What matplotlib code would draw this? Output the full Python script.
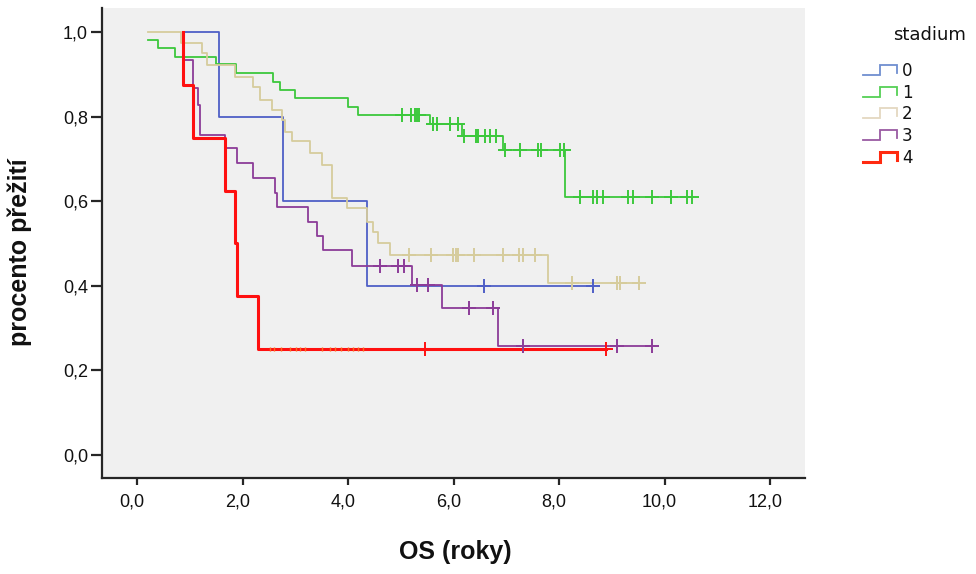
import numpy as np
import matplotlib
matplotlib.use("Agg")
import matplotlib.pyplot as plt
from matplotlib.lines import Line2D
from matplotlib.legend_handler import HandlerBase
import matplotlib.transforms as mtransforms

# ---- data ----
groups = ["0", "1", "2", "3", "4"]

# stage 0
t0 = [0.87, 1.55, 2.77, 4.36]
s0 = [1.0, 0.8, 0.6, 0.4]
c0 = [6.58, 8.65]
# stage 1
t1 = [0.21, 0.40, 0.72, 1.50, 1.88, 2.58, 2.71, 3.0, 4.0, 4.19, 5.55, 6.16, 6.94, 8.11]
s1 = [0.981, 0.962, 0.941, 0.924, 0.903, 0.882, 0.863, 0.844, 0.823, 0.804, 0.782, 0.754, 0.721, 0.61]
c1 = [5.02, 5.19, 5.27, 5.31, 5.35, 5.61, 5.69, 5.93, 6.09, 6.2, 6.43, 6.47, 6.6, 6.69, 6.8,
      6.98, 7.26, 7.6, 7.66, 8.02, 8.09, 8.4, 8.64, 8.71, 8.83, 9.31, 9.4, 9.76, 10.12, 10.43, 10.52]
# stage 2
t2 = [0.21, 0.83, 1.23, 1.33, 1.86, 2.2, 2.33, 2.56, 2.75, 2.81, 2.94, 3.28, 3.5, 3.7, 3.98,
      4.36, 4.47, 4.57, 4.8, 7.79]
s2 = [1.0, 0.974, 0.95, 0.922, 0.894, 0.87, 0.839, 0.816, 0.792, 0.764, 0.742, 0.714, 0.686,
      0.608, 0.584, 0.551, 0.527, 0.501, 0.473, 0.406]
c2 = [5.16, 5.57, 5.99, 6.05, 6.09, 6.39, 6.94, 7.24, 7.31, 7.55, 8.25, 9.1, 9.16, 9.52]
# stage 3
t3 = [0.87, 0.87, 1.06, 1.15, 1.19, 1.67, 1.89, 2.2, 2.62, 2.66, 3.24, 3.41, 3.53, 4.08, 5.21, 5.78, 6.84]
s3 = [1.0, 0.934, 0.868, 0.827, 0.757, 0.726, 0.69, 0.655, 0.619, 0.586, 0.551, 0.518, 0.485,
      0.447, 0.402, 0.348, 0.258]
c3 = [4.61, 4.95, 5.06, 5.31, 5.52, 6.29, 6.75, 7.32, 9.1, 9.76]
# stage 4
t4 = [0.87, 0.87, 1.06, 1.67, 1.86, 1.90, 2.29]
s4 = [1.0, 0.875, 0.75, 0.625, 0.5, 0.375, 0.25]
c4 = [5.46, 8.89]
c4_small = [2.52, 2.6, 2.72, 2.9, 3.02, 3.08, 3.18, 3.5, 3.66, 3.75, 3.87, 4.0, 4.1, 4.19, 4.28]

xticks = [0, 2, 4, 6, 8, 10, 12]
xticklabels = ["0,0", "2,0", "4,0", "6,0", "8,0", "10,0", "12,0"]
yticks = [0.0, 0.2, 0.4, 0.6, 0.8, 1.0]
yticklabels = ["0,0", "0,2", "0,4", "0,6", "0,8", "1,0"]

colors = ["#4F5FC6", "#3CC83C", "#D6CC9C", "#8C3C98", "#FF1010"]
lwidths = [1.3, 1.3, 1.3, 1.3, 2.2]
legend_colors = ["#6F8FD0", "#55D055", "#E4D8C0", "#9A5AA2", "#FF2A10"]

series = [(t0, s0, c0), (t1, s1, c1), (t2, s2, c2), (t3, s3, c3), (t4, s4, c4)]

# ---- figure ----
W, H = 976, 574
fig = plt.figure(figsize=(W / 100, H / 100), dpi=100)
fig.patch.set_facecolor("white")
ax = fig.add_axes([102 / W, 1 - 478 / H, (805 - 102) / W, (478 - 8) / H])
ax.set_facecolor("#F0F0F0")

for (t, s, c), col, lw in zip(series, colors, lwidths):
    t = np.asarray(t, float)
    s = np.asarray(s, float)
    end = max(max(c), t[-1])
    xs = np.append(t, end)
    ys = np.append(s, s[-1])
    ax.step(xs, ys, where="post", color=col, lw=lw, zorder=3)
    idx = np.searchsorted(t, c, side="right") - 1
    ax.plot(c, s[idx], linestyle="none", marker="+", ms=10, mew=1.4, color=col, zorder=4)

# tiny censor ticks on stage 4 line
t4a = np.asarray(t4)
s4a = np.asarray(s4)
idx = np.searchsorted(t4a, c4_small, side="right") - 1
ax.plot(c4_small, s4a[idx], linestyle="none", marker="|", ms=3, mew=1.0,
        color="#FF6A20", zorder=4)

ax.set_xlim(-0.664, 12.66)
ax.set_ylim(-0.0544, 1.0567)

for sp in ["top", "right"]:
    ax.spines[sp].set_visible(False)
for sp in ["left", "bottom"]:
    ax.spines[sp].set_color("#262626")
    ax.spines[sp].set_linewidth(1.6)

tickfont = dict(family="Liberation Sans", size=13)
ax.set_xticks(xticks)
ax.set_xticklabels(xticklabels, **tickfont)
ax.set_yticks(yticks)
ax.set_yticklabels(yticklabels, **tickfont)
ax.tick_params(axis="x", length=5, width=1.6, color="#262626", pad=6, labelcolor="#111111")
ax.tick_params(axis="y", length=8, width=1.6, color="#262626", pad=2, labelcolor="#111111")
off = mtransforms.ScaledTranslation(-5 / 100, 0, fig.dpi_scale_trans)
for lab in ax.get_xticklabels():
    lab.set_transform(lab.get_transform() + off)

fig.text(455 / W, 1 - 552 / H, "OS (roky)", ha="center", va="center",
         family="Liberation Sans", weight="bold", size=18, color="#111111")
fig.text(20 / W, 1 - 252 / H, "procento přežití", ha="center", va="center", rotation=90,
         family="Liberation Sans", weight="bold", size=18, color="#111111")


# ---- legend with step glyphs ----
class StepHandler(HandlerBase):
    def create_artists(self, legend, orig_handle, xdescent, ydescent, width, height, fontsize, trans):
        w, h = width, height
        xs = np.array([0, 0.5 * w, 0.5 * w, w, w]) - xdescent
        ys = np.array([0.1 * h, 0.1 * h, 0.95 * h, 0.95 * h, 0.25 * h]) - ydescent
        ln = Line2D(xs, ys, color=orig_handle.get_color(), lw=orig_handle.get_linewidth(),
                    solid_joinstyle="miter")
        ln.set_transform(trans)
        return [ln]


handles = [Line2D([], [], color=c, lw=lw) for c, lw in zip(legend_colors, lwidths)]
leg = fig.legend(handles, groups, loc="upper left", bbox_to_anchor=(863 / W, 1 - 62 / H),
                 frameon=False, borderpad=0, borderaxespad=0, handlelength=2.05,
                 handletextpad=0.3, labelspacing=0.22,
                 prop=dict(family="DejaVu Sans", size=12),
                 handler_map={Line2D: StepHandler()})
for txt in leg.get_texts():
    txt.set_color("#111111")
fig.text(893 / W, 1 - 35 / H, "stadium", ha="left", va="center",
         family="DejaVu Sans", size=13, color="#111111")

fig.savefig("out.png", dpi=100)
